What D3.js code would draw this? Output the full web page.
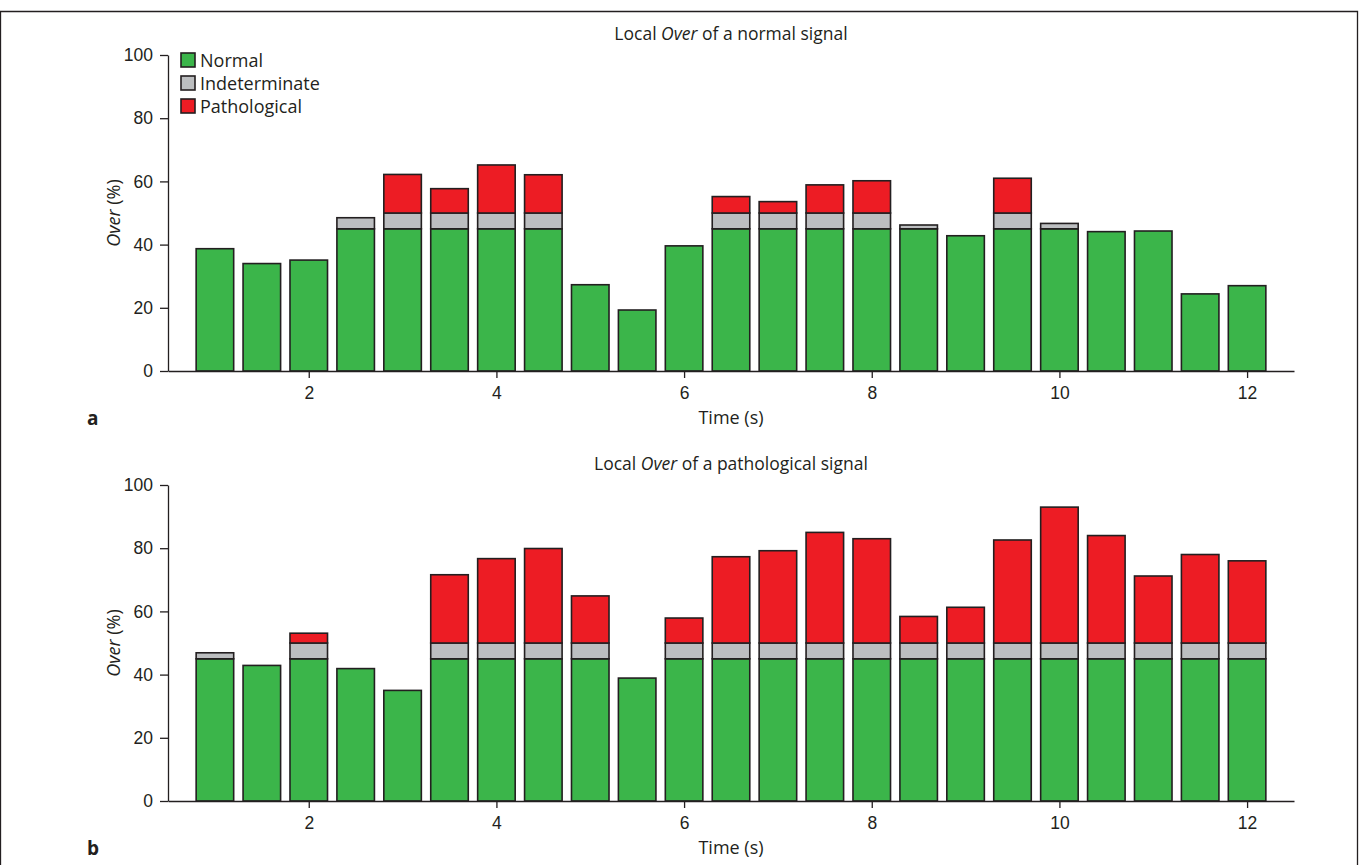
<!DOCTYPE html>
<html>
<head>
<meta charset="utf-8">
<script src="https://cdn.jsdelivr.net/npm/d3@7"></script>
<style>
  html, body { margin: 0; padding: 0; background: #fff; }
  svg { display: block; font-family: "Open Sans", "Noto Sans", sans-serif; }
  .axis text { font-size: 17.5px; fill: #231f20; }
  .axis path, .axis line { stroke: #231f20; stroke-width: 1.3; }
</style>
</head>
<body>
<svg id="fig" width="1359" height="865"></svg>
<script>
// Time of each analysis window (s)
const times = [1, 1.5, 2, 2.5, 3, 3.5, 4, 4.5, 5, 5.5, 6, 6.5, 7, 7.5, 8, 8.5, 9, 9.5, 10, 10.5, 11, 11.5, 12];

// Panel a: local Over of a normal signal (%), split by class
const normalA = [38.7, 34.0, 35.1, 45, 45, 45, 45, 45, 27.3, 19.3, 39.6, 45, 45, 45, 45, 45, 42.8, 45, 45, 44.1, 44.3, 24.4, 27.0];
const indetA  = [0, 0, 0, 3.5, 5, 5, 5, 5, 0, 0, 0, 5, 5, 5, 5, 1.2, 0, 5, 1.7, 0, 0, 0, 0];
const pathA   = [0, 0, 0, 0, 12.2, 7.7, 15.2, 12.1, 0, 0, 0, 5.2, 3.6, 8.9, 10.2, 0, 0, 11.0, 0, 0, 0, 0, 0];

// Panel b: local Over of a pathological signal (%), split by class
const normalB = [45, 42.9, 45, 41.9, 35.0, 45, 45, 45, 45, 38.9, 45, 45, 45, 45, 45, 45, 45, 45, 45, 45, 45, 45, 45];
const indetB  = [1.9, 0, 5, 0, 0, 5, 5, 5, 5, 0, 5, 5, 5, 5, 5, 5, 5, 5, 5, 5, 5, 5, 5];
const pathB   = [0, 0, 3.1, 0, 0, 21.6, 26.7, 29.9, 14.9, 0, 7.9, 27.3, 29.2, 35.0, 33.0, 8.4, 11.3, 32.6, 43.0, 34.0, 21.2, 28.0, 26.0];

const xTicks = [2, 4, 6, 8, 10, 12];
const yTicks = [0, 20, 40, 60, 80, 100];
const classNames = ["Normal", "Indeterminate", "Pathological"];
const classColors = ["#3bb54a", "#bcbec0", "#ed1c24"];

const svg = d3.select("#fig");

// Figure frame
svg.append("path")
  .attr("d", "M0.5,865 V11.5 H1357.5 V865")
  .attr("fill", "none").attr("stroke", "#231f20").attr("stroke-width", 1.3);

const left = 168, right = 1294;
const x = d3.scaleLinear().domain([0.5, 12.5]).range([left, right]);
const barHalf = 0.2;

function drawPanel(cfg) {
  const y = d3.scaleLinear().domain([0, 100]).range([cfg.y0, cfg.y100]);
  const g = svg.append("g");

  // Stack the three classes for each window
  const rows = times.map((t, i) => ({ t, Normal: cfg.normal[i], Indeterminate: cfg.indet[i], Pathological: cfg.path[i] }));
  const stacked = d3.stack().keys(classNames)(rows);

  stacked.forEach((layer, k) => {
    g.append("g").selectAll("rect")
      .data(layer.filter(d => d[1] - d[0] > 0))
      .join("rect")
      .attr("x", d => x(d.data.t - barHalf))
      .attr("width", d => x(d.data.t + barHalf) - x(d.data.t - barHalf))
      .attr("y", d => y(d[1]))
      .attr("height", d => y(d[0]) - y(d[1]))
      .attr("fill", classColors[k])
      .attr("stroke", "#231f20")
      .attr("stroke-width", 1.6);
  });

  // Axes
  g.append("g").attr("class", "axis")
    .attr("transform", `translate(0,${cfg.y0})`)
    .call(d3.axisBottom(x).tickValues(xTicks).tickSize(7).tickSizeOuter(0).tickPadding(9))
    .call(a => a.selectAll(".tick line").attr("stroke", "#777"));

  g.append("g").attr("class", "axis")
    .attr("transform", `translate(${left},0)`)
    .call(d3.axisLeft(y).tickValues(yTicks).tickSize(8).tickSizeOuter(0).tickPadding(7));

  // Title
  const title = g.append("text")
    .attr("x", (left + right) / 2).attr("y", cfg.y100 - 15)
    .attr("text-anchor", "middle").attr("font-size", 17.5).attr("fill", "#231f20");
  title.append("tspan").text("Local ");
  title.append("tspan").attr("font-style", "italic").text("Over");
  title.append("tspan").text(" of a " + cfg.kind + " signal");

  // Axis labels
  g.append("text")
    .attr("x", (left + right) / 2).attr("y", cfg.y0 + 53)
    .attr("text-anchor", "middle").attr("font-size", 18).attr("fill", "#231f20")
    .text("Time (s)");

  const yl = g.append("text")
    .attr("transform", `translate(120,${(cfg.y0 + cfg.y100) / 2}) rotate(-90)`)
    .attr("text-anchor", "middle").attr("font-size", 18).attr("fill", "#231f20");
  yl.append("tspan").attr("font-style", "italic").text("Over");
  yl.append("tspan").text(" (%)");

  // Panel letter
  g.append("text")
    .attr("x", 87).attr("y", cfg.y0 + 54)
    .attr("font-size", 19).attr("font-weight", "bold").attr("fill", "#231f20")
    .text(cfg.letter);
  return y;
}

drawPanel({ y0: 371, y100: 55, normal: normalA, indet: indetA, path: pathA, kind: "normal", letter: "a" });
drawPanel({ y0: 801, y100: 485, normal: normalB, indet: indetB, path: pathB, kind: "pathological", letter: "b" });

// Legend (panel a)
const legend = svg.append("g").attr("transform", "translate(181,53)");
classNames.forEach((name, i) => {
  const row = legend.append("g").attr("transform", `translate(0,${i * 23})`);
  row.append("rect").attr("width", 14).attr("height", 14)
    .attr("fill", classColors[i]).attr("stroke", "#231f20").attr("stroke-width", 1.6);
  row.append("text").attr("x", 19).attr("y", 13.5)
    .attr("font-size", 18).attr("fill", "#231f20").text(name);
});
</script>
</body>
</html>
